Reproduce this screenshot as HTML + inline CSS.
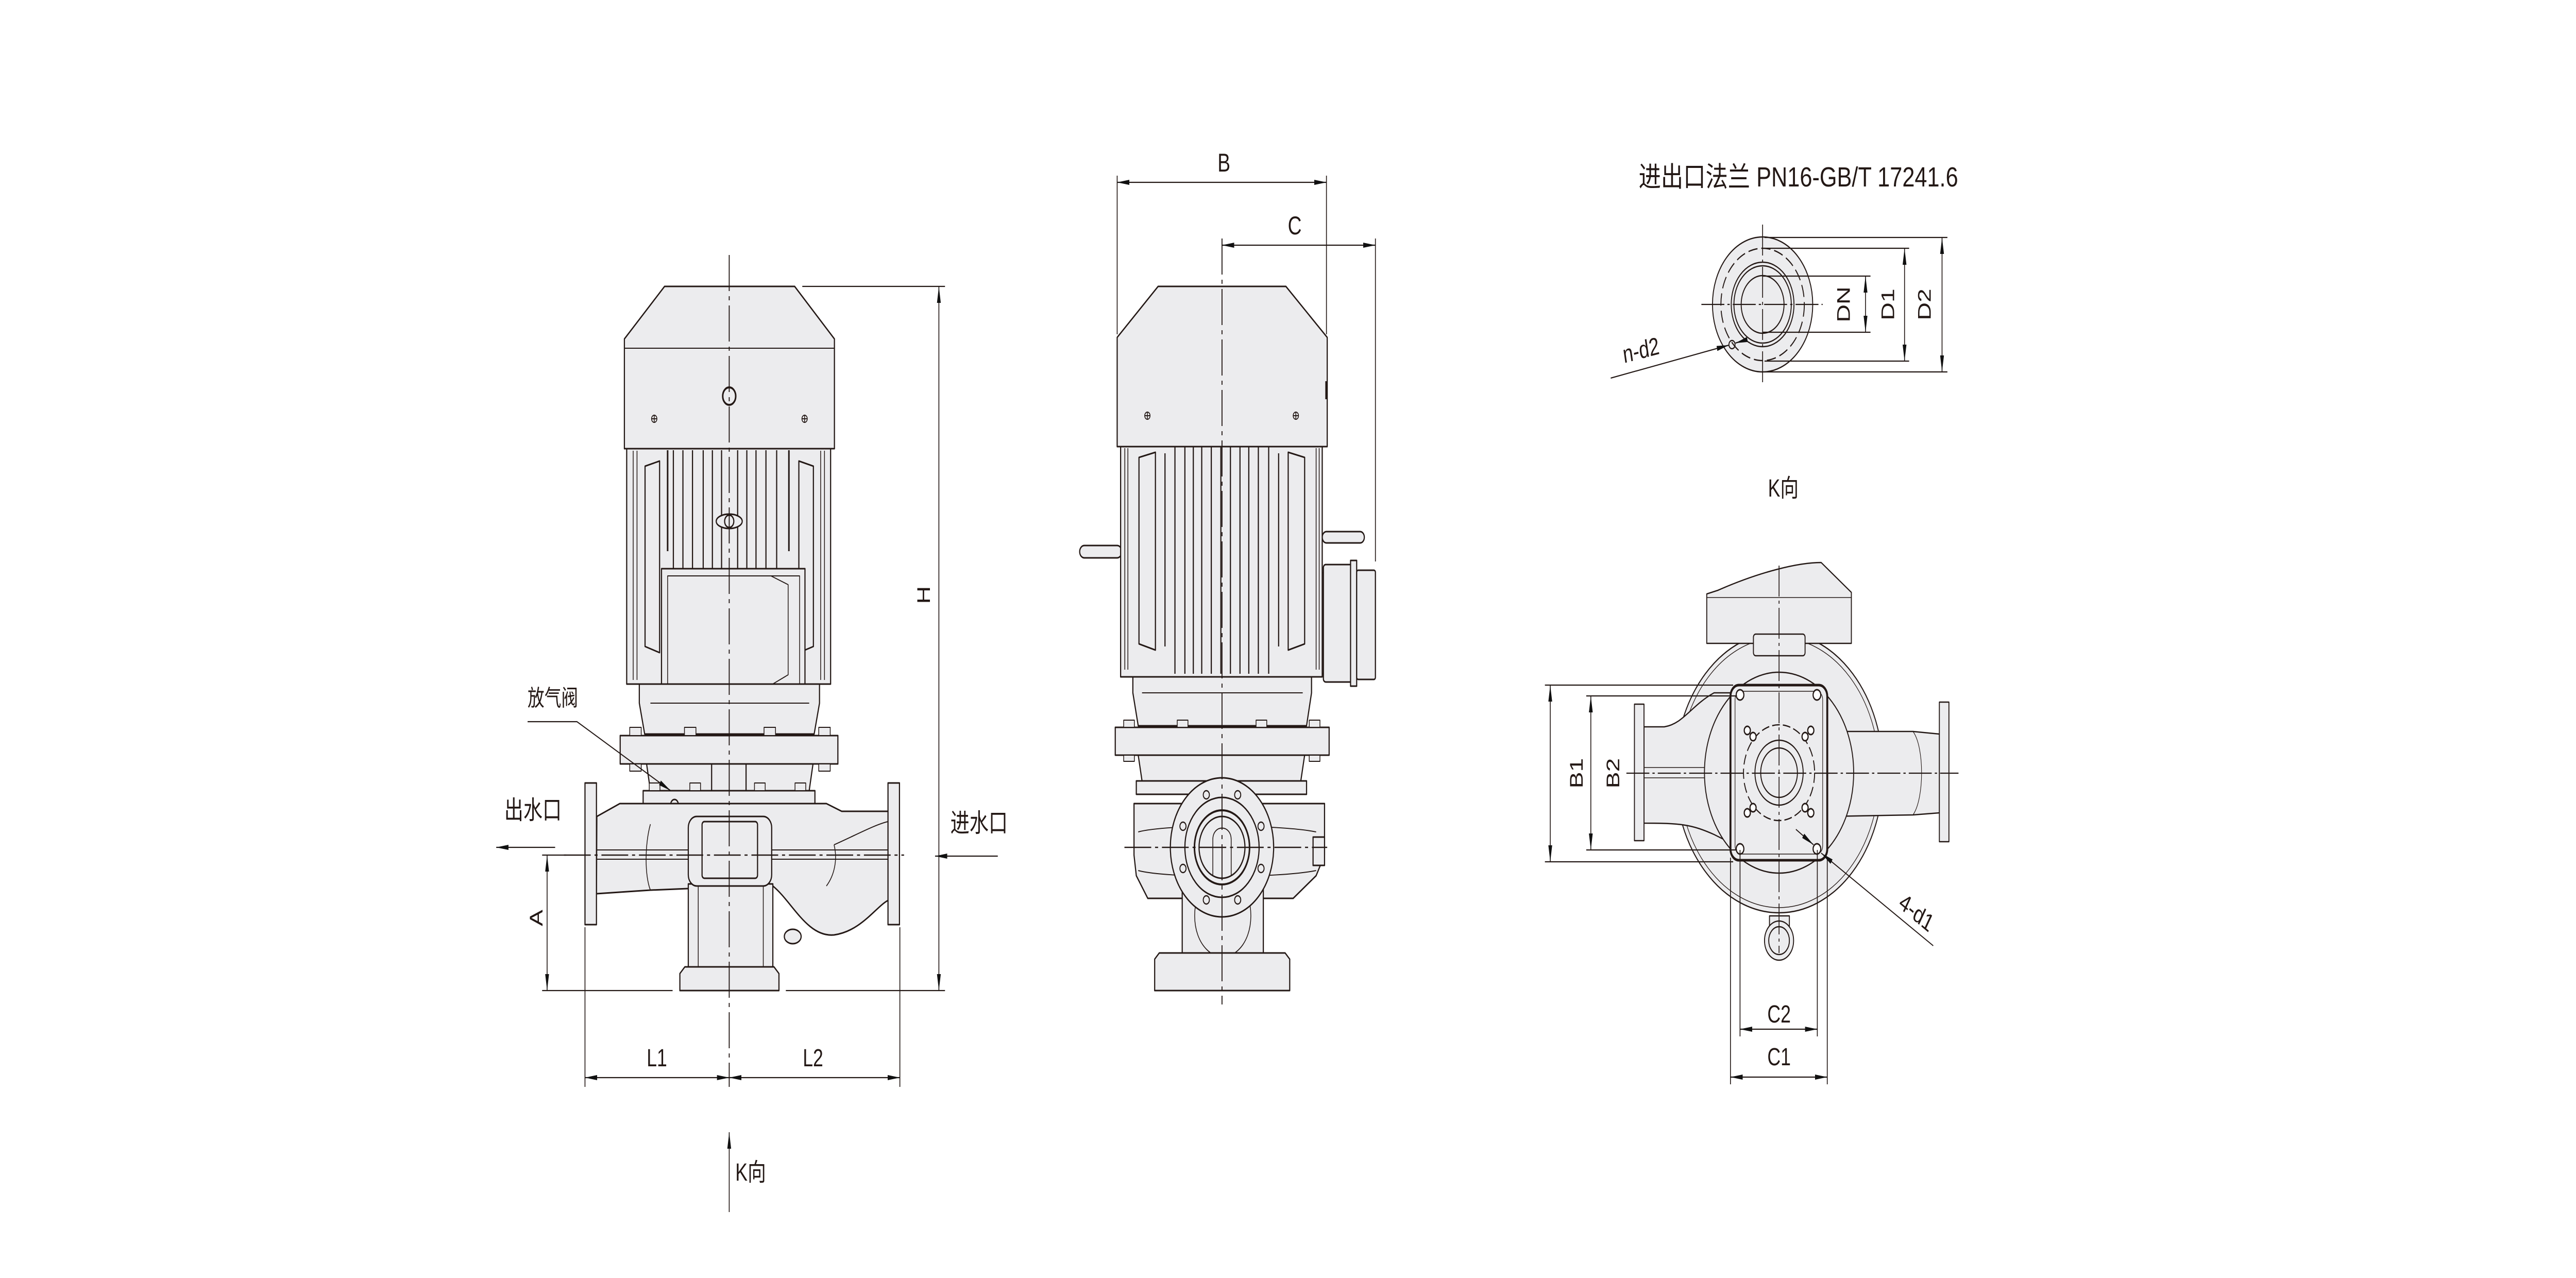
<!DOCTYPE html>
<html><head><meta charset="utf-8"><style>html,body{margin:0;padding:0;background:#fff;width:100%;height:100%;overflow:hidden}svg{display:block;width:100vw;height:100vh}</style></head>
<body>
<svg xmlns="http://www.w3.org/2000/svg" viewBox="0 0 6733 2481" preserveAspectRatio="none">
<defs>
<marker id="ar" markerUnits="userSpaceOnUse" markerWidth="34" markerHeight="14" refX="32" refY="6" orient="auto-start-reverse" viewBox="0 0 34 12"><path d="M0,1 L32,6 L0,11 Z" fill="#111"/></marker>
</defs>
<g font-family="'Liberation Sans','Noto Sans CJK SC',sans-serif" fill="#231815">

<!-- ================= PUMP 1 (front) ================= -->
<g fill="#ececee" stroke="#231815" stroke-width="3" stroke-linejoin="round">
 <rect x="1638" y="871" width="533" height="457"/>
 <path d="M1655,875 V1320 M1665,875 V1320 M2155,875 V1320 M2145,875 V1320" fill="none" stroke-width="2"/>
 <path d="M1686,905 L1724,895 L1724,1267 L1686,1255 Z"/>
 <path d="M2126,905 L2088,895 L2088,1267 L2126,1255 Z"/>
 <g stroke-width="3" fill="none">
  <path d="M1760,874V1104 M1785,874V1104 M1810,874V1104 M1838,874V1104 M1862,874V1104 M1886,874V1104 M1928,874V1104 M1952,874V1104 M1976,874V1104 M2002,874V1104 M2030,874V1104"/>
  <path d="M1745,874V1070 M2062,874V1070" stroke-width="4"/>
 </g>
 <ellipse cx="1906" cy="1012" rx="34" ry="14"/>
 <circle cx="1906" cy="1012" r="12"/>
 <path d="M1737,556 L2077,556 L2181,658 L2181,871 L1632,871 L1632,658 Z"/>
 <path d="M1632,676 H2181" fill="none" stroke-width="2"/>
 <circle cx="1906" cy="769" r="17" fill="none" stroke-width="4"/>
 <g fill="none" stroke-width="2"><circle cx="1710" cy="813" r="7"/><circle cx="2103" cy="813" r="7"/><path d="M1703,813h14M1710,806v14M2096,813h14M2103,806v14"/></g>
 <rect x="1729" y="1104" width="375" height="239"/>
 <rect x="1745" y="1118" width="345" height="212" fill="none" stroke-width="2"/>
 <path d="M2015,1118 L2060,1135 L2060,1310 L2015,1330" fill="none" stroke-width="2"/>
 <path d="M1671,1328 L2142,1328 L2142,1365 L2128,1425 L1685,1425 L1671,1365 Z"/>
 <path d="M1700,1365 H2115" fill="none" stroke-width="2"/>
 <rect x="1621" y="1428" width="569" height="55"/>
 <g fill="#ececee" stroke-width="2">
  <rect x="1646" y="1412" width="30" height="16"/><rect x="1789" y="1412" width="30" height="16"/><rect x="1997" y="1412" width="30" height="16"/><rect x="2140" y="1412" width="30" height="16"/>
  <rect x="1646" y="1483" width="30" height="14"/><rect x="1789" y="1483" width="30" height="14"/><rect x="1997" y="1483" width="30" height="14"/><rect x="2140" y="1483" width="30" height="14"/>
 </g>
 <path d="M1690,1483 L2125,1483 L2115,1535 L1700,1535 Z"/>
 <rect x="1860" y="1483" width="90" height="52" fill="#ececee"/>
 <rect x="1681" y="1535" width="449" height="26"/>
 <g fill="#ececee" stroke-width="2"><rect x="1697" y="1520" width="28" height="15"/><rect x="1803" y="1520" width="28" height="15"/><rect x="1972" y="1520" width="28" height="15"/><rect x="2078" y="1520" width="28" height="15"/></g>
 <circle cx="1763" cy="1562" r="10"/>
 <path d="M2020,1720 C2070,1750 2110,1820 2180,1815 C2250,1808 2290,1760 2321,1748 L2321,1575 L2200,1575 L2160,1560 L1620,1560 L1560,1585 L1559,1735 L1700,1728 L1799,1725 Z"/>
 <path d="M1559,1650 H2321 M1559,1668 H2321" fill="none" stroke-width="2"/>
 <path d="M1700,1600 C1685,1640 1685,1700 1700,1728 M2180,1640 C2190,1670 2180,1700 2160,1720 M2180,1640 C2240,1620 2290,1600 2321,1595" fill="none" stroke-width="2"/>
 <rect x="1529" y="1520" width="30" height="275"/>
 <rect x="2321" y="1520" width="30" height="275"/>
 <rect x="1799" y="1716" width="221" height="163"/>
 <path d="M1825,1716V1879 M1995,1716V1879" fill="none" stroke-width="2"/>
 <rect x="1799" y="1585" width="218" height="135" rx="22"/>
 <rect x="1835" y="1595" width="145" height="110" rx="6"/>
 <ellipse cx="2072" cy="1818" rx="22" ry="14"/>
 <path d="M1790,1877 L2023,1877 L2036,1890 L2036,1923 L1777,1923 L1777,1890 Z"/>
</g>
<g stroke="#231815" stroke-width="2.5" fill="none" stroke-dasharray="70 10 8 10">
 <path d="M1906,495 V2110"/>
 <path d="M1474,1660 H2363"/>
</g>
<g stroke="#231815" stroke-width="2.2" fill="none">
 <path d="M2097,556 H2470 M2054,1923 H2470 M1417,1923 H1758 M1417,1660 H1480"/>
 <path d="M2454,556 V1923" marker-start="url(#ar)" marker-end="url(#ar)"/>
 <path d="M1430,1660 V1923" marker-start="url(#ar)" marker-end="url(#ar)"/>
 <path d="M1529,1800 V2110 M2352,1800 V2110"/>
 <path d="M1529,2092 H1906" marker-start="url(#ar)" marker-end="url(#ar)"/>
 <path d="M1906,2092 H2352" marker-start="url(#ar)" marker-end="url(#ar)"/>
 <path d="M1451,1645 H1297" marker-end="url(#ar)"/>
 <path d="M2608,1662 H2444" marker-end="url(#ar)"/>
 <path d="M1906,2353 V2198" marker-end="url(#ar)"/>
 <path d="M1379,1401 H1508 L1753,1535" marker-end="url(#ar)"/>
</g>
<g font-size="48">
 <text x="2418" y="1155" text-anchor="middle" transform="rotate(-90 2418 1155)" dominant-baseline="middle">H</text>
 <text x="1405" y="1782" text-anchor="middle" transform="rotate(-90 1405 1782)" dominant-baseline="middle">A</text>
 <text x="1717" y="2070" text-anchor="middle">L1</text>
 <text x="2125" y="2070" text-anchor="middle">L2</text>
 <text x="1318" y="1590" font-size="50">出水口</text>
 <text x="2484" y="1615" font-size="50">进水口</text>
 <text x="1379" y="1370" font-size="44">放气阀</text>
 <text x="1922" y="2292" font-size="48">K向</text>
</g>

<!-- ================= PUMP 2 (side) ================= -->
<g fill="#ececee" stroke="#231815" stroke-width="3" stroke-linejoin="round">
 <rect x="2822" y="1059" width="110" height="24" rx="12"/>
 <rect x="3456" y="1032" width="110" height="22" rx="11"/>
 <rect x="3409" y="1112" width="55" height="196"/>
 <rect x="3459" y="1096" width="79" height="228" rx="6"/>
 <rect x="3530" y="1088" width="16" height="244"/>
 <rect x="3546" y="1107" width="49" height="212" rx="4"/>
 <rect x="2929" y="867" width="527" height="447"/>
 <path d="M2940,870V1300 M2948,870V1300 M3440,870V1300 M3448,870V1300" fill="none" stroke-width="2"/>
 <path d="M2977,888 L3020,878 L3020,1262 L2977,1250 Z"/>
 <path d="M3410,888 L3367,878 L3367,1262 L3410,1250 Z"/>
 <g fill="none">
  <path d="M3071,867V1308 M3097,867V1308 M3119,867V1308 M3141,867V1308 M3166,867V1308 M3191,867V1308 M3216,867V1308 M3241,867V1308 M3264,867V1308 M3289,867V1308 M3316,867V1308" stroke-width="3"/>
  <path d="M3045,880V1255 M3342,880V1255" stroke-width="3"/>
 </g>
 <path d="M3027,556 L3361,556 L3469,655 L3469,867 L2920,867 L2920,655 Z"/>
 <path d="M3467,740 V775" stroke-width="6"/>
 <g fill="none" stroke-width="2"><circle cx="2999" cy="807" r="7"/><circle cx="3387" cy="807" r="7"/><path d="M2992,807h14M2999,800v14M3380,807h14M3387,800v14"/></g>
 <path d="M2961,1314 L3428,1314 L3428,1345 L3415,1409 L2975,1409 L2961,1345 Z"/>
 <path d="M2985,1345 H3405" fill="none" stroke-width="2"/>
 <rect x="2915" y="1412" width="559" height="54"/>
 <g stroke-width="2"><rect x="2937" y="1398" width="28" height="14"/><rect x="3077" y="1398" width="28" height="14"/><rect x="3283" y="1398" width="28" height="14"/><rect x="3422" y="1398" width="28" height="14"/>
 <rect x="2937" y="1466" width="28" height="12"/><rect x="3077" y="1466" width="28" height="12"/><rect x="3283" y="1466" width="28" height="12"/><rect x="3422" y="1466" width="28" height="12"/></g>
 <path d="M2975,1466 L3410,1466 L3400,1516 L2985,1516 Z"/>
 <rect x="2970" y="1516" width="445" height="26"/>
 <path d="M2964,1560 L3462,1560 L3462,1660 L3440,1700 L3380,1744 L3000,1744 L2970,1700 L2964,1660 Z"/>
 <path d="M2975,1615 C3050,1600 3340,1600 3440,1615 M2975,1690 C3050,1705 3340,1705 3440,1690" fill="none" stroke-width="2"/>
 <rect x="3432" y="1625" width="30" height="55"/>
 <path d="M3090,1712 L3302,1712 L3302,1880 L3090,1880 Z"/>
 <path d="M3130,1740 C3110,1790 3130,1850 3196,1860 C3262,1850 3282,1790 3262,1740" fill="none" stroke-width="2"/>
 <path d="M3030,1850 L3359,1850 L3371,1862 L3371,1923 L3018,1923 L3018,1862 Z"/>
 <circle cx="3194" cy="1645" r="135"/>
 <circle cx="3194" cy="1645" r="97"/>
 <circle cx="3194" cy="1645" r="72" stroke-width="4"/>
 <circle cx="3194" cy="1645" r="60"/>
 <path d="M3170,1700 V1630 C3170,1600 3218,1600 3218,1630 V1700" fill="none" stroke-width="2"/>
 <g stroke-width="2.5">
  <circle cx="3235" cy="1543" r="8"/><circle cx="3296" cy="1604" r="8"/><circle cx="3296" cy="1686" r="8"/><circle cx="3235" cy="1747" r="8"/>
  <circle cx="3153" cy="1747" r="8"/><circle cx="3092" cy="1686" r="8"/><circle cx="3092" cy="1604" r="8"/><circle cx="3153" cy="1543" r="8"/>
 </g>
</g>
<g stroke="#231815" stroke-width="2.5" fill="none" stroke-dasharray="70 10 8 10">
 <path d="M3194,463 V1950"/>
 <path d="M2939,1645 H3469"/>
</g>
<g stroke="#231815" stroke-width="2.2" fill="none">
 <path d="M2920,341 V649 M3467,341 V649 M3595,463 V1090"/>
 <path d="M2920,354 H3467" marker-start="url(#ar)" marker-end="url(#ar)"/>
 <path d="M3194,476 H3595" marker-start="url(#ar)" marker-end="url(#ar)"/>
</g>
<g font-size="50">
 <text x="3199" y="333" text-anchor="middle">B</text>
 <text x="3384" y="455" text-anchor="middle">C</text>
</g>

<!-- ================= FLANGE VIEW ================= -->
<text x="4283" y="362" font-size="54" textLength="835" lengthAdjust="spacingAndGlyphs">进出口法兰 PN16-GB/T 17241.6</text>
<g fill="#ececee" stroke="#231815" stroke-width="2.5">
 <circle cx="4607" cy="591" r="131"/>
 <circle cx="4607" cy="591" r="109" fill="none" stroke-dasharray="24 10"/>
 <circle cx="4607" cy="591" r="82"/>
 <circle cx="4607" cy="591" r="75" fill="none"/>
 <circle cx="4607" cy="591" r="56"/>
 <circle cx="4527" cy="669" r="8" fill="none"/>
</g>
<g stroke="#231815" stroke-width="2.2" fill="none">
 <path d="M4607,436 V743 M4447,591 H4764" stroke-dasharray="60 8 6 8"/>
 <path d="M4607,536 H4889 M4607,645 H4889 M4612,482 H4990 M4612,701 H4990 M4612,461 H5090 M4612,722 H5090"/>
 <path d="M4876,536 V645" marker-start="url(#ar)" marker-end="url(#ar)"/>
 <path d="M4978,482 V701" marker-start="url(#ar)" marker-end="url(#ar)"/>
 <path d="M5076,461 V722" marker-start="url(#ar)" marker-end="url(#ar)"/>
 <path d="M4210,734 L4519,670" marker-end="url(#ar)"/>
 <path d="M4567,659 L4536,666" marker-end="url(#ar)"/>
</g>
<g font-size="48">
 <text x="4822" y="591" text-anchor="middle" dominant-baseline="middle" transform="rotate(-90 4822 591)">DN</text>
 <text x="4938" y="591" text-anchor="middle" dominant-baseline="middle" transform="rotate(-90 4938 591)">D1</text>
 <text x="5034" y="591" text-anchor="middle" dominant-baseline="middle" transform="rotate(-90 5034 591)">D2</text>
 <text x="4245" y="705" transform="rotate(-11 4245 705)">n-d2</text>
 <text x="4621" y="964">K向</text>
</g>

<!-- ================= K VIEW ================= -->
<g fill="#ececee" stroke="#231815" stroke-width="2.5" stroke-linejoin="round">
 <rect x="4625" y="1778" width="52" height="20"/>
 <circle cx="4650" cy="1826" r="38"/>
 <circle cx="4650" cy="1826" r="27"/>
 <ellipse cx="4650" cy="1500" rx="272" ry="272"/>
 <ellipse cx="4650" cy="1500" rx="262" ry="262" fill="none" stroke-width="1.5"/>
 <path d="M4297,1411 L4350,1411 C4400,1405 4420,1370 4480,1345 L4560,1345 L4560,1650 L4480,1620 C4420,1600 4390,1598 4297,1598 Z"/>
 <path d="M4297,1490 H4530 M4297,1510 H4530" fill="none" stroke-width="1.5"/>
 <rect x="4272" y="1367" width="25" height="265"/>
 <path d="M4780,1420 L5000,1420 L5069,1425 L5069,1578 L5000,1582 L4780,1585 Z"/>
 <path d="M5000,1420 C5030,1450 5030,1550 5000,1582" fill="none" stroke-width="1.5"/>
 <rect x="5069" y="1363" width="25" height="271"/>
 <circle cx="4650" cy="1500" r="195"/>
 <path d="M4490,1146 C4600,1110 4700,1092 4760,1092 L4839,1150 L4839,1249 L4461,1249 L4461,1153 Z"/>
 <path d="M4461,1160 H4839" fill="none" stroke-width="1.5"/>
 <rect x="4583" y="1231" width="135" height="42" rx="6"/>
 <rect x="4523" y="1330" width="253" height="340" rx="22" stroke-width="5"/>
 <rect x="4535" y="1342" width="229" height="316" rx="16" fill="none" stroke-width="1.5"/>
 <circle cx="4650" cy="1500" r="93" fill="none" stroke-dasharray="20 8"/>
 <circle cx="4650" cy="1500" r="63"/>
 <circle cx="4650" cy="1500" r="48" fill="none"/>
 <g fill="#fff" stroke-width="3">
  <circle cx="4548" cy="1349" r="10"/><circle cx="4749" cy="1349" r="10"/><circle cx="4548" cy="1648" r="10"/><circle cx="4749" cy="1648" r="10"/>
  <circle cx="4567" cy="1418" r="8"/><circle cx="4582" cy="1430" r="8"/><circle cx="4733" cy="1418" r="8"/><circle cx="4718" cy="1430" r="8"/>
  <circle cx="4567" cy="1578" r="8"/><circle cx="4582" cy="1568" r="8"/><circle cx="4733" cy="1578" r="8"/><circle cx="4718" cy="1568" r="8"/>
 </g>
</g>
<g stroke="#231815" stroke-width="2.2" fill="none">
 <path d="M4251,1501 H5119 M4650,1098 V1850" stroke-dasharray="60 8 6 8"/>
 <path d="M4038,1330 H4530 M4146,1351 H4540 M4038,1673 H4530 M4146,1650 H4540"/>
 <path d="M4052,1330 V1673" marker-start="url(#ar)" marker-end="url(#ar)"/>
 <path d="M4158,1351 V1650" marker-start="url(#ar)" marker-end="url(#ar)"/>
 <path d="M4523,1665 V2105 M4776,1665 V2105 M4548,1650 V2012 M4750,1650 V2012"/>
 <path d="M4523,2091 H4776" marker-start="url(#ar)" marker-end="url(#ar)"/>
 <path d="M4548,1998 H4750" marker-start="url(#ar)" marker-end="url(#ar)"/>
 <path d="M5053,1836 L4760,1656" marker-end="url(#ar)"/>
 <path d="M4694,1610 L4740,1640" marker-end="url(#ar)"/>
</g>
<g font-size="48">
 <text x="4124" y="1501" text-anchor="middle" dominant-baseline="middle" transform="rotate(-90 4124 1501)">B1</text>
 <text x="4220" y="1501" text-anchor="middle" dominant-baseline="middle" transform="rotate(-90 4220 1501)">B2</text>
 <text x="4650" y="2068" text-anchor="middle">C1</text>
 <text x="4650" y="1985" text-anchor="middle">C2</text>
 <text x="4960" y="1760" transform="rotate(32 4960 1760)">4-d1</text>
</g>
</g>
</svg>
</body></html>
